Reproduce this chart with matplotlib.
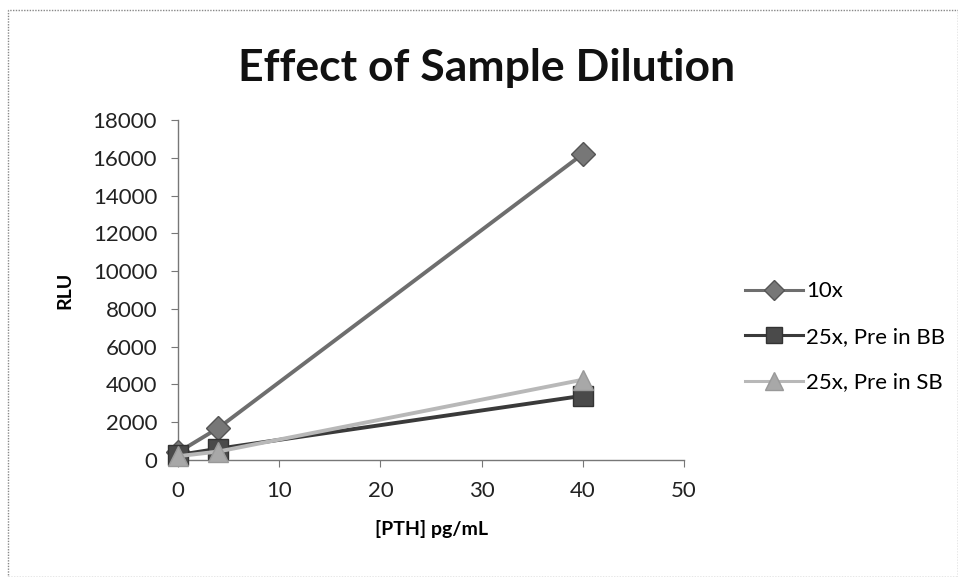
import matplotlib
matplotlib.use("Agg")
import matplotlib.pyplot as plt
from matplotlib.patches import Rectangle

plt.rcParams['font.family'] = ['Lato', 'DejaVu Sans']

conc = [0, 4, 40]
series_names = ["10x", "25x, Pre in BB", "25x, Pre in SB"]
rlu_10x = [400, 1700, 16200]
rlu_25x_bb = [260, 600, 3400]
rlu_25x_sb = [200, 450, 4250]
x_ticks = [0, 10, 20, 30, 40, 50]
y_ticks = list(range(0, 18001, 2000))

fig = plt.figure(figsize=(9.58, 5.77), dpi=100)
ax = fig.add_axes([178/958, 1-460/577, (684-178)/958, (460-120)/577])

styles = [
    dict(color="#6e6e6e", marker="D", ms=12, mfc="#777777", mec="#555555"),
    dict(color="#3a3a3a", marker="s", ms=14, mfc="#4a4a4a", mec="#333333"),
    dict(color="#b8b8b8", marker="^", ms=15, mfc="#a8a8a8", mec="#999999"),
]
for vals, name, st in zip([rlu_10x, rlu_25x_bb, rlu_25x_sb], series_names, styles):
    ax.plot(conc, vals, lw=2.8, label=name, clip_on=False, zorder=3, **st)

ax.set_xlim(0, 50)
ax.set_ylim(0, 18000)
ax.set_xticks(x_ticks)
ax.set_yticks(y_ticks)
for s in ["top", "right"]:
    ax.spines[s].set_visible(False)
for s in ["left", "bottom"]:
    ax.spines[s].set_linestyle((0, (1, 1)))
    ax.spines[s].set_color("#777777")
    ax.spines[s].set_linewidth(1)
ax.tick_params(axis="both", direction="out", length=5, color="#777777",
               labelsize=16, labelcolor="#222222")
ax.tick_params(axis="x", pad=10)
ax.tick_params(axis="y", pad=10)

ax.set_xlabel("[PTH] pg/mL", fontsize=14, fontweight="bold", labelpad=14)
ax.set_ylabel("RLU", fontsize=14, fontweight="bold", labelpad=14)

fig.text(487/958, 1-68/577, "Effect of Sample Dilution", fontsize=32,
         fontweight="bold", ha="center", va="center", color="#111111")

leg = fig.legend(loc="center left", bbox_to_anchor=(725/958, 1-337/577),
                 frameon=False, fontsize=16, handlelength=2.6,
                 labelspacing=1.15, handletextpad=0.15, markerscale=0.85)
for line in leg.get_lines():
    line.set_linewidth(2.2)

fig.patches.append(Rectangle((8/958, 0), 950/958, 1-10/577, transform=fig.transFigure,
                             fill=False, ls=(0, (1, 1)), lw=1, ec="#888888"))

fig.savefig("out.png", dpi=100)
